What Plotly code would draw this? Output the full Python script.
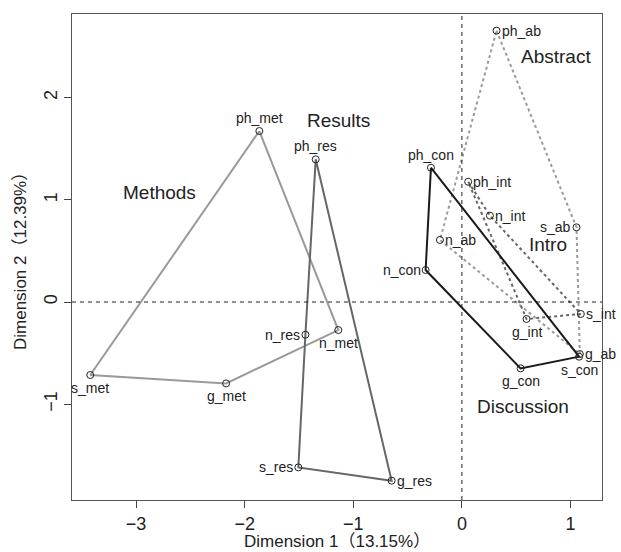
import plotly.graph_objects as go

# ---- data ----
abstract_labels = ["ph_ab", "s_ab", "g_ab", "n_ab"]
abstract_x = [0.319, 1.055, 1.086, -0.202]
abstract_y = [2.655, 0.731, -0.509, 0.607]

intro_labels = ["ph_int", "n_int", "s_int", "g_int"]
intro_x = [0.058, 0.258, 1.095, 0.595]
intro_y = [1.177, 0.845, -0.117, -0.166]

con_labels = ["ph_con", "s_con", "g_con", "n_con"]
con_x = [-0.285, 1.079, 0.540, -0.334]
con_y = [1.314, -0.535, -0.649, 0.313]

met_labels = ["ph_met", "n_met", "g_met", "s_met"]
met_x = [-1.865, -1.138, -2.171, -3.422]
met_y = [1.673, -0.274, -0.796, -0.714]

res_labels = ["ph_res", "g_res", "s_res", "n_res"]
res_x = [-1.346, -0.647, -1.506, -1.441]
res_y = [1.396, -1.748, -1.618, -0.320]

section_names = ["Abstract", "Intro", "Discussion", "Methods", "Results"]
section_x = [0.863, 0.791, 0.561, -2.788, -1.138]
section_y = [2.40, 0.558, -1.027, 1.067, 1.774]

x_ticks = [-3, -2, -1, 0, 1]
y_ticks = [-1, 0, 1, 2]
x_title = "Dimension 1（13.15%）"
y_title = "Dimension 2（12.39%）"

# ---- styling ----
FONT = "Liberation Sans, Arial, Noto Sans CJK JP, sans-serif"
groups = [
    (abstract_labels, abstract_x, abstract_y, "#9a9a9a", "3px,3px"),
    (intro_labels, intro_x, intro_y, "#666666", "3px,3px"),
    (con_labels, con_x, con_y, "#1a1a1a", "solid"),
    (met_labels, met_x, met_y, "#999999", "solid"),
    (res_labels, res_x, res_y, "#666666", "solid"),
]
label_pos = {
    "ph_ab": "r", "s_ab": "l", "g_ab": "r", "n_ab": "r",
    "ph_int": "r", "n_int": "r", "s_int": "r", "g_int": "b",
    "ph_con": "t", "s_con": "b", "g_con": "b", "n_con": "l",
    "ph_met": "t", "n_met": "b", "g_met": "b", "s_met": "b",
    "ph_res": "t", "g_res": "r", "s_res": "l", "n_res": "l",
}

fig = go.Figure()

for labs, xs, ys, col, dash in groups:
    fig.add_trace(go.Scatter(
        x=list(xs) + [xs[0]], y=list(ys) + [ys[0]], mode="lines",
        line=dict(color=col, width=2, dash=dash), hoverinfo="skip",
        showlegend=False))

for labs, xs, ys, col, dash in groups:
    fig.add_trace(go.Scatter(
        x=xs, y=ys, mode="markers", text=labs,
        marker=dict(symbol="circle-open", size=7, color="#222222",
                    line=dict(width=1, color="#222222")),
        showlegend=False))

annotations = []
for labs, xs, ys, col, dash in groups:
    for lab, x, y in zip(labs, xs, ys):
        p = label_pos[lab]
        a = dict(x=x, y=y, text=lab, showarrow=False,
                 font=dict(family=FONT, size=14, color="#222222"))
        if p == "r":
            a.update(xanchor="left", yanchor="middle", xshift=3)
        elif p == "l":
            a.update(xanchor="right", yanchor="middle", xshift=-3)
        elif p == "t":
            a.update(xanchor="center", yanchor="bottom", yshift=3)
        else:
            a.update(xanchor="center", yanchor="top", yshift=-3)
        annotations.append(a)

for name, x, y in zip(section_names, section_x, section_y):
    annotations.append(dict(x=x, y=y, text=name, showarrow=False,
                            xanchor="center", yanchor="middle",
                            font=dict(family=FONT, size=19, color="#222222")))

# axis titles
annotations.append(dict(x=0.5, y=0, xref="paper", yref="paper", text=x_title,
                        showarrow=False, xanchor="center", yanchor="middle",
                        yshift=-41, borderpad=0, font=dict(family=FONT, size=17)))
annotations.append(dict(x=0, y=0.5, xref="paper", yref="paper", text=y_title,
                        showarrow=False, xanchor="center", yanchor="middle",
                        textangle=-90, xshift=-52, borderpad=0,
                        font=dict(family=FONT, size=17)))

# zero reference lines
shapes = [
    dict(type="line", x0=0, x1=0, xref="x", y0=0, y1=1, yref="paper",
         line=dict(color="#222222", width=1, dash="4px,4px")),
    dict(type="line", y0=0, y1=0, yref="y", x0=0, x1=1, xref="paper",
         line=dict(color="#222222", width=1, dash="4px,4px")),
]

fig.update_layout(
    width=621, height=552,
    margin=dict(l=72, r=19, t=14, b=52, autoexpand=False),
    paper_bgcolor="white", plot_bgcolor="white",
    font=dict(family=FONT, size=18, color="#222222"),
    annotations=annotations, shapes=shapes,
    xaxis=dict(range=[-3.59, 1.29], tickvals=x_ticks, ticks="outside",
               ticklen=7, tickcolor="#444444", showgrid=False, zeroline=False,
               showline=True, linecolor="#555555", linewidth=1, mirror=True,
               automargin=False, tickfont=dict(size=18)),
    yaxis=dict(range=[-1.937, 2.818], tickvals=y_ticks, ticks="outside",
               ticklen=7, tickcolor="#444444", tickangle=-90,
               showgrid=False, zeroline=False, automargin=False,
               showline=True, linecolor="#555555", linewidth=1, mirror=True,
               tickfont=dict(size=18)),
)

fig.write_html(
    "out.html",
    config={"displayModeBar": False},
    post_script="document.body.style.margin='0';document.body.style.overflow='hidden';",
)
